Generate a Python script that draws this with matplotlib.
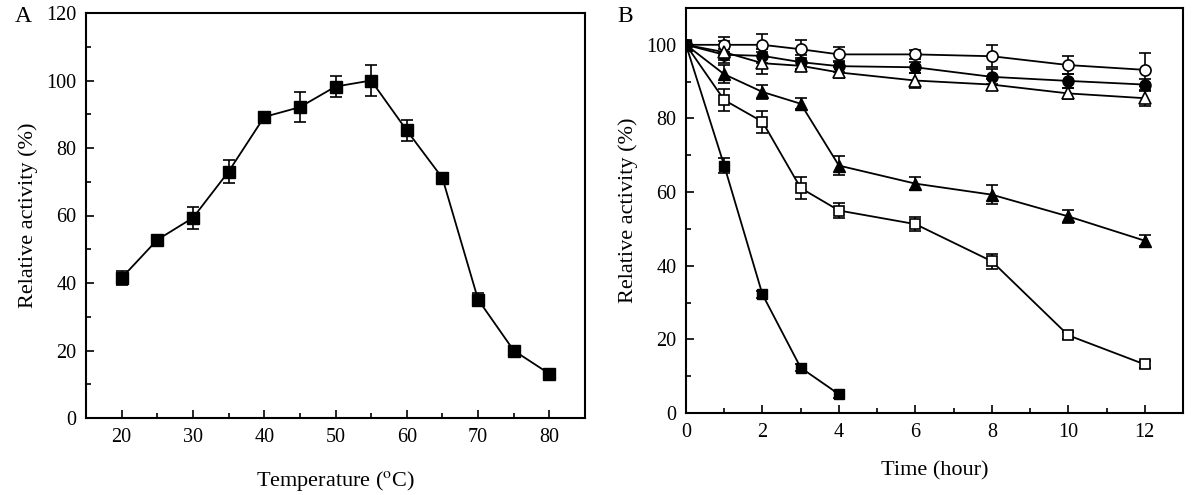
import matplotlib
matplotlib.use("Agg")
import matplotlib.pyplot as plt
from matplotlib.ticker import MultipleLocator

plt.rcParams['font.family'] = ['Liberation Serif', 'DejaVu Serif']
plt.rcParams['mathtext.fontset'] = 'stix'

# Panel A data
temp = [20, 25, 30, 35, 40, 45, 50, 55, 60, 65, 70, 75, 80]
act_temp = [41.5, 52.8, 59.3, 73.0, 89.2, 92.1, 98.2, 100.0, 85.2, 71.1, 35.1, 20.0, 13.1]
err_temp = [2.2, 1.3, 3.3, 3.5, 1.5, 4.4, 3.2, 4.6, 3.0, 1.5, 2.0, 0.8, 0.6]

# Panel B data
time = [0, 1, 2, 3, 4, 6, 8, 10, 12]
open_circle = [100, 100, 100, 98.8, 97.4, 97.4, 96.9, 94.5, 93.2]
open_circle_err = [0.5, 2.0, 3.0, 2.5, 2.0, 1.2, 3.0, 2.5, 4.5]
filled_circle = [100, 97.3, 97.0, 95.3, 94.2, 93.9, 91.3, 90.2, 89.2]
filled_circle_err = [0.5, 1.5, 2.0, 2.0, 1.5, 1.5, 2.0, 2.0, 1.5]
open_tri = [100, 98.0, 95.0, 94.3, 92.5, 90.3, 89.2, 86.8, 85.5]
open_tri_err = [0.5, 3.0, 3.0, 1.5, 1.5, 2.0, 1.5, 1.5, 2.0]
filled_tri = [100, 92.0, 87.2, 84.0, 67.2, 62.3, 59.3, 53.4, 46.8]
filled_tri_err = [0.5, 2.5, 2.0, 1.5, 2.5, 1.8, 2.5, 1.8, 1.5]
open_sq = [100, 85.0, 79.1, 61.1, 55.0, 51.3, 41.2, 21.1, 13.2]
open_sq_err = [0.5, 3.0, 3.0, 3.0, 2.0, 2.0, 2.0, 1.0, 1.0]
filled_sq_t = [0, 1, 2, 3, 4]
filled_sq = [100, 67.2, 32.2, 12.3, 5.1]
filled_sq_err = [0.5, 2.0, 1.0, 1.0, 1.0]

fig = plt.figure(figsize=(12, 4.95), dpi=100)
W, H = 1200, 495
axA = fig.add_axes([86 / W, 1 - 418 / H, (585 - 86) / W, (418 - 13) / H])
axB = fig.add_axes([686 / W, 1 - 413 / H, (1183 - 686) / W, (413 - 8) / H])

lw = 1.3
kw = dict(color='black', ecolor='black', elinewidth=1.2, capsize=4, capthick=1.2, lw=lw)

axA.errorbar(temp, act_temp, yerr=err_temp, marker='s', ms=9, mfc='black', mec='black', **kw)
axA.set_xlim(15, 85)
axA.set_ylim(0, 120)
axA.xaxis.set_major_locator(MultipleLocator(10))
axA.xaxis.set_minor_locator(MultipleLocator(5))
axA.yaxis.set_major_locator(MultipleLocator(20))
axA.yaxis.set_minor_locator(MultipleLocator(10))
axA.set_xlabel(r'Temperature ($^{\rm o}$C)', fontsize=16, labelpad=16)
axA.set_ylabel('Relative activity (%)', fontsize=16, labelpad=6)

ms = 8
axB.errorbar(time, open_circle, yerr=open_circle_err, marker='o', ms=ms, mfc='white', mec='black', mew=1.2, **kw)
axB.errorbar(time, filled_circle, yerr=filled_circle_err, marker='o', ms=ms, mfc='black', mec='black', **kw)
axB.errorbar(time, open_tri, yerr=open_tri_err, marker='^', ms=ms + 1, mfc='white', mec='black', mew=1.2, **kw)
axB.errorbar(time, filled_tri, yerr=filled_tri_err, marker='^', ms=ms + 1, mfc='black', mec='black', **kw)
axB.errorbar(time, open_sq, yerr=open_sq_err, marker='s', ms=ms - 1, mfc='white', mec='black', mew=1.2, **kw)
axB.errorbar(filled_sq_t, filled_sq, yerr=filled_sq_err, marker='s', ms=ms - 1, mfc='black', mec='black', **kw)
axB.set_xlim(0, 13)
axB.set_ylim(0, 110)
axB.xaxis.set_major_locator(MultipleLocator(2))
axB.xaxis.set_minor_locator(MultipleLocator(1))
axB.yaxis.set_major_locator(MultipleLocator(20))
axB.yaxis.set_minor_locator(MultipleLocator(10))
axB.set_xlabel('Time (hour)', fontsize=16, labelpad=14)
axB.set_ylabel('Relative activity (%)', fontsize=16, labelpad=6)

for ax in (axA, axB):
    for s in ax.spines.values():
        s.set_linewidth(1.5)
    ax.tick_params(which='both', direction='in', top=False, right=False, labelsize=14.5, width=1.2)
    ax.tick_params(which='major', length=6, pad=7)
    ax.tick_params(which='minor', length=3.5)

fig.text(15 / W, 1 - 17 / H, 'A', fontsize=17, va='center', ha='left')
fig.text(617 / W, 1 - 17 / H, 'B', fontsize=17, va='center', ha='left')

fig.savefig('out.png', dpi=100)
